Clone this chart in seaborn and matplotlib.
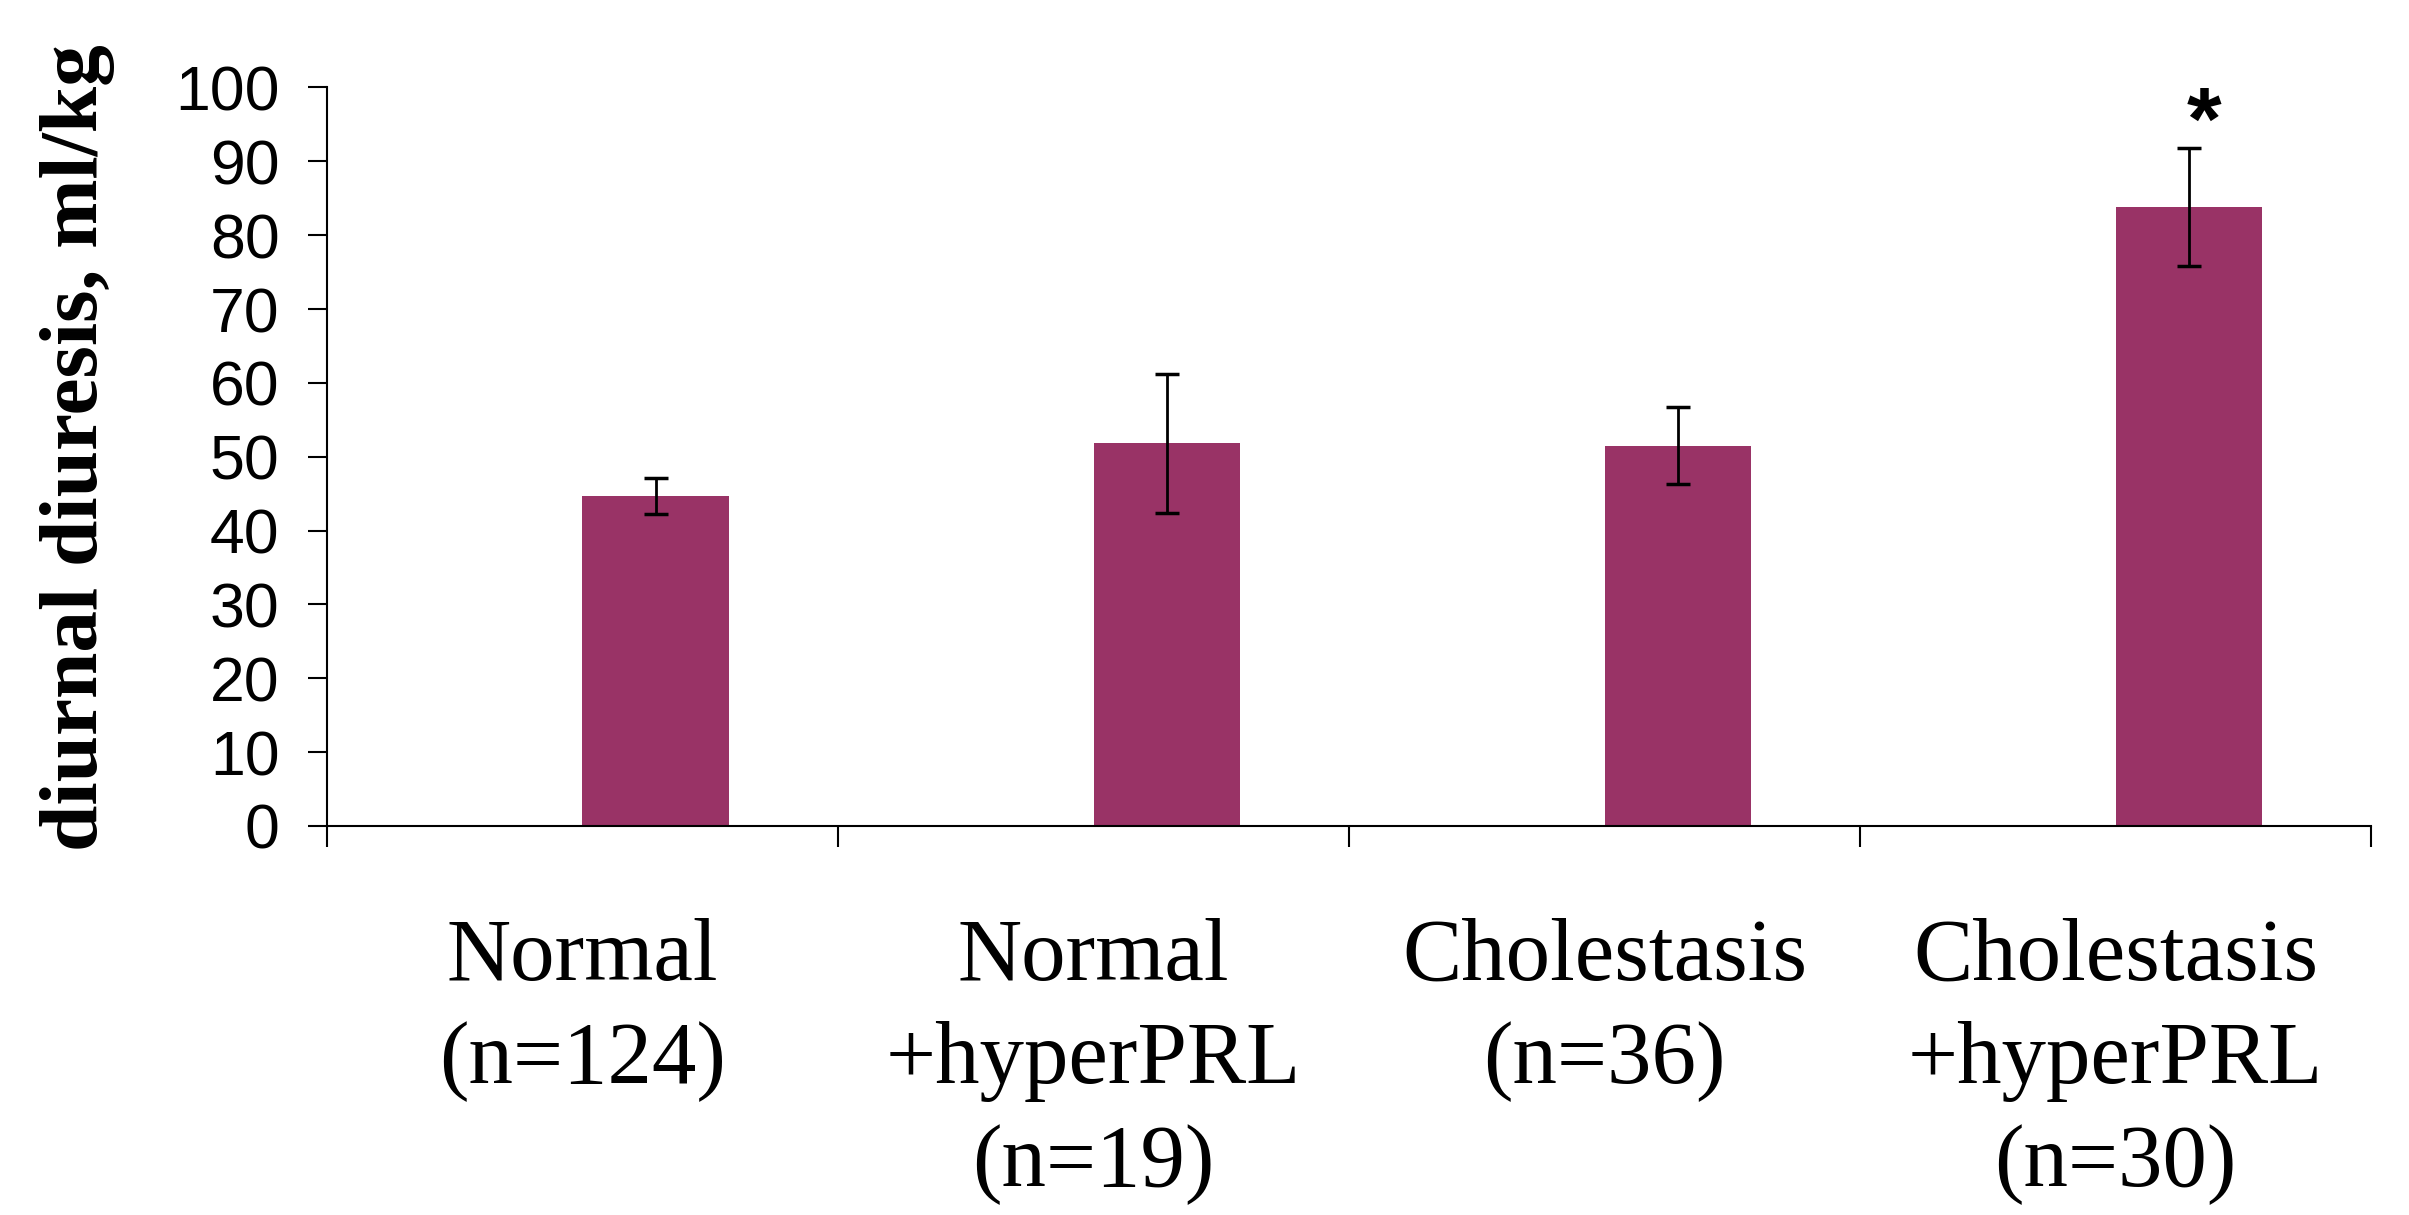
import numpy as np
import pandas as pd
import matplotlib
matplotlib.use("Agg")
import matplotlib.pyplot as plt
import seaborn as sns

## Data
groups = ["Normal\n(n=124)", "Normal\n+hyperPRL\n(n=19)", "Cholestasis\n(n=36)", "Cholestasis\n+hyperPRL\n(n=30)"]
diuresis = [44.7, 51.8, 51.5, 83.8]
sem = [2.4, 9.4, 5.2, 8.0]
significant = [False, False, False, True]

bar_color = "#993366"
offset = 0.143   # bars sit to the right of the category centre, like the original Excel chart
bar_width = 0.286

sns.set_style("white")
plt.rcParams['font.family'] = ['Liberation Sans', 'DejaVu Sans']
plt.rcParams['text.color'] = 'black'
plt.rcParams['xtick.color'] = 'black'
plt.rcParams['ytick.color'] = 'black'

pos = np.arange(len(groups)) + offset
df = pd.DataFrame({'pos': pos, 'value': diuresis})

fig = plt.figure(figsize=(24.09, 12.15), dpi=100)
ax = fig.add_axes([0.1357, 0.3202, 0.8486, 0.6078])

sns.barplot(data=df, x='pos', y='value', native_scale=True, width=bar_width,
            color=bar_color, saturation=1, errorbar=None, ax=ax, linewidth=0)
ax.errorbar(pos, diuresis, yerr=sem, fmt='none', ecolor='black',
            elinewidth=2, capsize=8.5, capthick=2.5)

for p, v, e, s in zip(pos, diuresis, sem, significant):
    if s:
        ax.text(p + 0.03, v + e + 3.0, '*', ha='center', va='center',
                fontsize=64, fontweight='bold', family=['Liberation Sans'])

ax.set_xlim(-0.5, len(groups) - 0.5)
ax.set_ylim(0, 100)
ax.set_yticks(range(0, 101, 10))
ax.tick_params(axis='y', direction='out', length=14, width=1.5, pad=20, labelsize=45, left=True)

# category boundaries as ticks, labels in between
ax.set_xticks(np.arange(-0.5, len(groups), 1.0))
ax.set_xticklabels([])
ax.set_xticks(np.arange(len(groups)), minor=True)
ax.set_xticklabels(groups, minor=True, family=['Liberation Serif'], fontsize=64, linespacing=1.36)
ax.tick_params(axis='x', which='major', direction='out', length=15, width=1.5, bottom=True)
ax.tick_params(axis='x', which='minor', length=0, pad=66)

ax.set_xlabel('')
ax.set_ylabel('')
sns.despine(ax=ax)
for side in ['left', 'bottom']:
    ax.spines[side].set_linewidth(1.5)
    ax.spines[side].set_color('black')

fig.text(0.032, 0.632, 'diurnal diuresis, ml/kg', rotation=90, ha='center', va='center',
         fontsize=60, fontweight='bold', family=['Liberation Serif'])

fig.savefig('out.png', dpi=100)
